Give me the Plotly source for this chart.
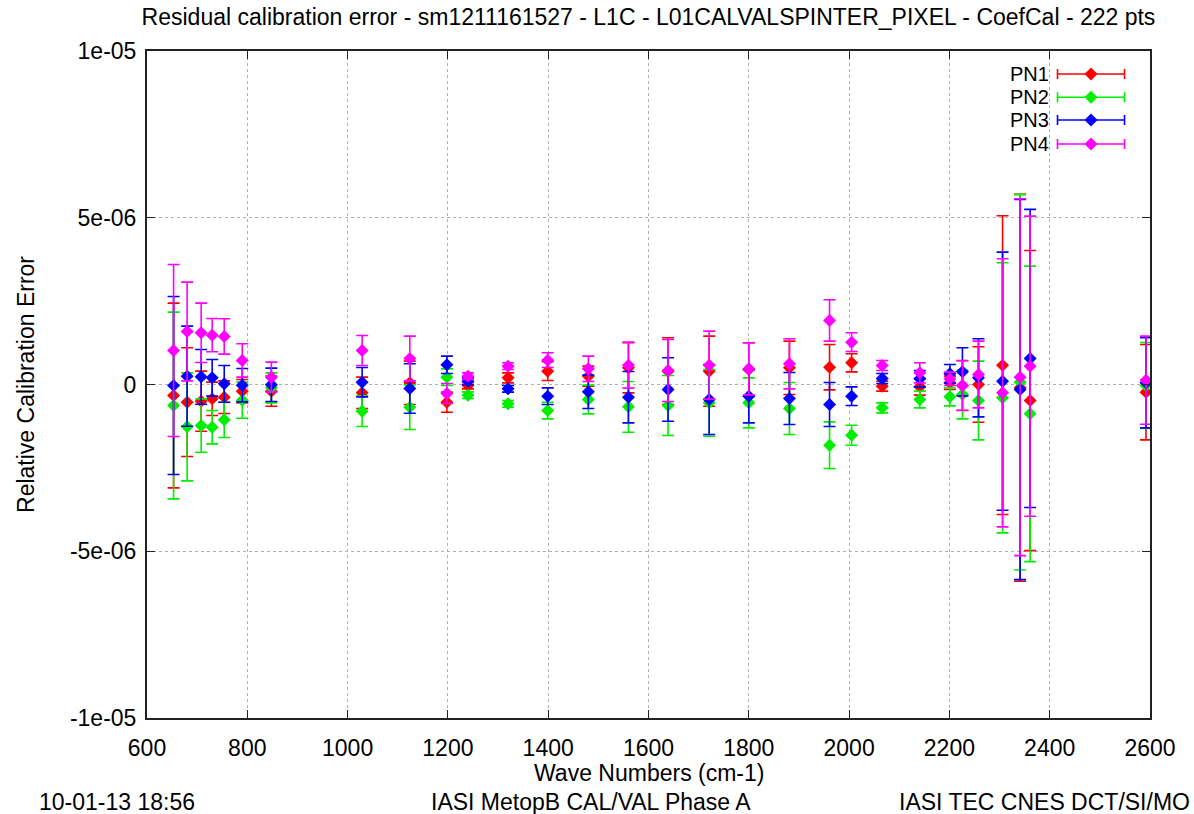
import numpy as np
import plotly.graph_objects as go

# ---------------- data (values in units of 1e-6) ----------------
wave_numbers = [653, 680, 708, 730, 754, 790, 848, 1029, 1124, 1198, 1240, 1320, 1399, 1480, 1560,
                1639, 1721, 1800, 1881, 1961, 2005, 2066, 2141, 2201, 2226, 2258, 2306, 2341, 2361, 2592]

pn1_val = [-0.33, -0.53, -0.50, -0.43, -0.38, -0.20, -0.20, -0.25, 0.05, -0.53, -0.03, 0.20, 0.40, 0.25, 0.50,
           0.40, 0.40, 0.45, 0.50, 0.52, 0.65, -0.05, -0.07, 0.05, -0.03, 0.00, 0.58, -0.10, -0.48, -0.23]
pn1_err = [2.77, 1.63, 0.90, 0.50, 0.49, 0.35, 0.45, 0.47, 0.65, 0.30, 0.10, 0.15, 0.28, 0.30, 0.75,
           1.00, 1.05, 0.80, 0.80, 0.68, 0.27, 0.15, 0.25, 0.20, 0.75, 1.13, 4.48, 5.80, 4.50, 1.43]

pn2_val = [-0.63, -1.27, -1.23, -1.28, -1.06, -0.47, -0.10, -0.80, -0.68, 0.22, -0.32, -0.58, -0.78, -0.45, -0.67,
           -0.63, -0.55, -0.55, -0.72, -1.82, -1.52, -0.70, -0.45, -0.37, -0.30, -0.48, -0.40, 0.07, -0.88, -0.03]
pn2_err = [2.80, 1.62, 0.80, 0.50, 0.53, 0.54, 0.45, 0.46, 0.67, 0.25, 0.10, 0.10, 0.25, 0.43, 0.76,
           0.90, 1.00, 0.75, 0.78, 0.70, 0.30, 0.15, 0.25, 0.27, 0.73, 1.18, 4.05, 5.63, 4.43, 1.29]

pn3_val = [-0.03, 0.25, 0.23, 0.20, 0.02, -0.02, -0.01, 0.07, -0.12, 0.59, 0.10, -0.13, -0.35, -0.22, -0.38,
           -0.15, -0.45, -0.35, -0.42, -0.60, -0.35, 0.18, 0.17, 0.32, 0.38, 0.20, 0.10, -0.15, 0.78, 0.05]
pn3_err = [2.67, 1.50, 0.82, 0.55, 0.55, 0.50, 0.50, 0.44, 0.74, 0.26, 0.10, 0.10, 0.25, 0.50, 0.77,
           0.95, 1.05, 0.80, 0.78, 0.66, 0.28, 0.15, 0.25, 0.28, 0.72, 1.17, 3.87, 5.70, 4.47, 1.35]

pn4_val = [1.02, 1.59, 1.55, 1.48, 1.44, 0.72, 0.22, 1.02, 0.78, -0.27, 0.25, 0.55, 0.73, 0.47, 0.58,
           0.42, 0.58, 0.47, 0.62, 1.92, 1.27, 0.57, 0.35, 0.17, -0.03, 0.30, -0.25, 0.22, 0.55, 0.13]
pn4_err = [2.58, 1.48, 0.89, 0.50, 0.53, 0.50, 0.45, 0.45, 0.67, 0.30, 0.10, 0.10, 0.22, 0.38, 0.69,
           0.93, 1.02, 0.78, 0.75, 0.62, 0.28, 0.15, 0.30, 0.20, 0.74, 1.00, 4.02, 5.35, 4.50, 1.32]

UNIT = 1e-6
series_names = ["PN1", "PN2", "PN3", "PN4"]
series_vals = [pn1_val, pn2_val, pn3_val, pn4_val]
series_errs = [pn1_err, pn2_err, pn3_err, pn4_err]
colors = ["#ff0000", "#00ee00", "#0000ff", "#ff00ff"]

x_ticks = [600, 800, 1000, 1200, 1400, 1600, 1800, 2000, 2200, 2400, 2600]
y_tick_vals = [1e-05, 5e-06, 0, -5e-06, -1e-05]
y_tick_text = ["1e-05", "5e-06", "0", "-5e-06", "-1e-05"]

FONT = "Liberation Sans, Arial, sans-serif"
FS = 23
LEG_FS = 20

fig = go.Figure()
for name, v, e, c in zip(series_names, series_vals, series_errs, colors):
    fig.add_trace(go.Scatter(
        x=wave_numbers, y=np.array(v) * UNIT, mode="markers", name=name,
        marker=dict(symbol="diamond", size=10, color=c, line=dict(width=0)),
        error_y=dict(type="data", array=np.array(e) * UNIT, visible=True,
                     color=c, thickness=1.6, width=6),
        showlegend=False,
    ))

# legend drawn gnuplot-style (text left, sample with error caps right)
leg_x = 0.9412
leg_half = 0.0334
leg_ys = [0.9655, 0.9306, 0.8966, 0.8606]
for name, c, ly in zip(series_names, colors, leg_ys):
    fig.add_trace(go.Scatter(
        x=[leg_x], y=[ly], xaxis="x2", yaxis="y2", mode="markers",
        marker=dict(symbol="diamond", size=10, color=c),
        error_x=dict(type="constant", value=leg_half, color=c, thickness=1.6, width=5),
        showlegend=False, hoverinfo="skip",
    ))
    fig.add_annotation(x=0.9005, y=ly, xref="paper", yref="paper", text=name,
                       showarrow=False, xanchor="right", yanchor="middle",
                       borderpad=0,
                       font=dict(family=FONT, size=LEG_FS, color="black"))

axis_common = dict(showline=True, linecolor="#222222", linewidth=2, mirror="allticks",
                   ticks="inside", ticklen=8, tickwidth=1, tickcolor="#222222",
                   showgrid=True, gridcolor="#b0b0b0", griddash="dot", gridwidth=1,
                   zeroline=False, tickfont=dict(family=FONT, size=FS, color="black"))

fig.update_layout(
    width=1194, height=814,
    margin=dict(l=147, r=44, t=51, b=96),
    paper_bgcolor="white", plot_bgcolor="white",
    title=dict(text="Residual calibration error - sm1211161527 - L1C - L01CALVALSPINTER_PIXEL - CoefCal - 222 pts",
               x=0.5, xref="paper", y=1 - 17 / 814, yanchor="middle",
               font=dict(family=FONT, size=FS, color="black")),
    xaxis=dict(range=[600, 2600], tickvals=x_ticks, ticklabelstandoff=8, **axis_common),
    yaxis=dict(range=[-1e-05, 1e-05], tickvals=y_tick_vals, ticktext=y_tick_text,
               ticklabelstandoff=4, **axis_common),
    xaxis2=dict(range=[0, 1], overlaying="x", visible=False),
    yaxis2=dict(range=[0, 1], overlaying="y", visible=False),
    showlegend=False,
)

ann_font = dict(family=FONT, size=FS, color="black")
fig.add_annotation(x=0.5, y=-0.0825, xref="paper", yref="paper", text="Wave Numbers (cm-1)",
                   showarrow=False, xanchor="center", yanchor="middle", font=ann_font)
fig.add_annotation(x=-0.1212, y=0.5, xref="paper", yref="paper", text="Relative Calibration Error",
                   showarrow=False, textangle=-90, xanchor="center", yanchor="middle", font=ann_font)
fig.add_annotation(x=-0.1095, y=-0.126, xref="paper", yref="paper", text="10-01-13 18:56",
                   showarrow=False, xanchor="left", yanchor="middle", font=ann_font)
fig.add_annotation(x=0.443, y=-0.126, xref="paper", yref="paper", text="IASI MetopB CAL/VAL Phase A",
                   showarrow=False, xanchor="center", yanchor="middle", font=ann_font)
fig.add_annotation(x=1.0415, y=-0.126, xref="paper", yref="paper", text="IASI TEC CNES DCT/SI/MO",
                   showarrow=False, xanchor="right", yanchor="middle", font=ann_font)

fig.write_html("out.html")
